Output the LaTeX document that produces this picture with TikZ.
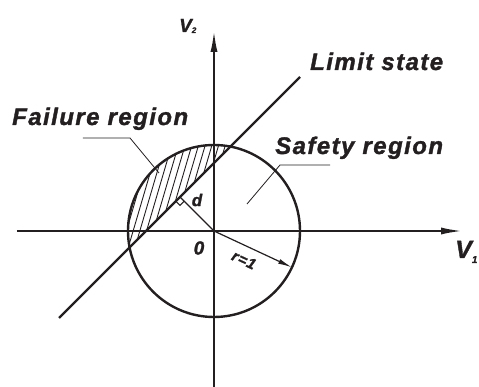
\documentclass[tikz,border=0pt]{standalone}
\usepackage{fontspec}
\setmainfont{Liberation Sans}
\newfontfamily\lblfont[LetterSpace=6,FakeBold=1.4]{Liberation Sans}
\newfontfamily\symfont[FakeBold=1.4]{Liberation Sans}
\usetikzlibrary{arrows.meta,calc}
\definecolor{ink}{RGB}{35,31,32}

\begin{document}
\begin{tikzpicture}[x=1pt,y=1pt,
    every node/.style={text=ink,inner sep=0pt,font=\symfont\bfseries\itshape},
    region/.style={anchor=base west,font=\lblfont\bfseries\itshape\fontsize{24}{24}\selectfont},
    axis/.style={ink,line width=2.7pt,-{Latex[length=24pt,width=7pt]}},
    heavy/.style={ink,line width=2.4pt},
    leader/.style={ink,line width=0.8pt}]
    \useasboundingbox (-214,-156) rectangle (265,231);
    \coordinate (O) at (0,0);
    \coordinate (foot) at (-34,34);
    % hatched failure part of the circle
    \begin{scope}
        \clip (O) circle (86);
        \clip (-200,-132) -- (200,268) -- (-200,268) -- cycle;
        \foreach \k in {-14,...,9}
            \draw[ink,line width=0.9pt] ({\k*6.7-50},-100) -- ({\k*6.7+50},240);
    \end{scope}
    \draw[axis] (-197,0) -- (251,0) coordinate (v1end);
    \draw[axis] (0,-156) -- (0,203) coordinate (v2end);
    \draw[heavy] (O) circle (86);
    \draw[heavy] (-155,-87) coordinate (ls0) -- (86,154) coordinate (ls1);
    % distance d and radius
    \draw[ink,line width=1.2pt] (O) -- (foot);
    \draw[ink,line width=1pt] ($(foot)+(-4.2,-4.2)$) -- ++(4.2,-4.2) -- ++(4.2,4.2);
    \draw[ink,line width=1.2pt,-{Latex[length=14pt,width=5pt]}] (O) -- (-25:86) coordinate (rim);
    % labels
    \node[region] (fail) at (-202,106) {Failure region};
    \node[region] (safe) at (61,77) {Safety region};
    \node[region] (limit) at (96,161) {Limit state};
    \draw[leader] (-131,93) -- (-84,93) -- (-55,58);
    \draw[leader] (116,66) -- (66,66) -- (33,27);
    \node[anchor=base west,font=\symfont\bfseries\itshape\fontsize{25}{25}\selectfont] (v1) at (241,-27)
        {V\raisebox{-5pt}{\fontsize{10}{10}\selectfont 1}};
    \node[anchor=base west,font=\symfont\bfseries\itshape\fontsize{19}{19}\selectfont] (v2) at (-35,199)
        {V\raisebox{-1pt}{\fontsize{8}{8}\selectfont 2}};
    \node[font=\symfont\bfseries\itshape\fontsize{19}{19}\selectfont] (zero) at (-15,-17) {0};
    \node[font=\symfont\bfseries\itshape\fontsize{17}{17}\selectfont] (d) at (-17,31) {d};
    \node[font=\lblfont\bfseries\itshape\fontsize{15}{15}\selectfont,rotate=-25] (r) at (30,-29) {r=1};
\end{tikzpicture}
\end{document}
